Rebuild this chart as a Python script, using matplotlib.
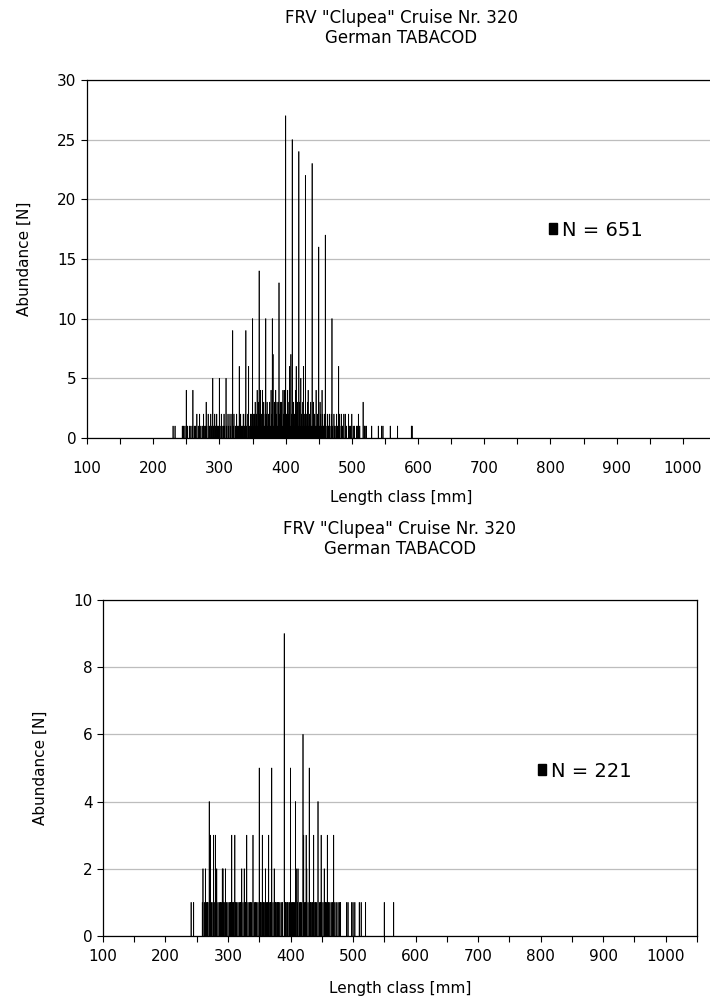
import matplotlib
matplotlib.use("Agg")
import matplotlib.pyplot as plt
import numpy as np
from matplotlib.patches import Patch
from matplotlib.ticker import MultipleLocator

plt.rcParams["font.family"] = ["DejaVu Sans"]

TITLE = 'FRV "Clupea" Cruise Nr. 320\nGerman TABACOD'

# first chart: counts per 1-mm length class, one row per 10 mm, starting at 230 mm
top_start = 230
top_counts = [
    1, 0, 0, 1, 0, 0, 0, 0, 0, 0,
    0, 0, 0, 0, 1, 0, 1, 0, 1, 0,
    4, 0, 1, 0, 0, 1, 0, 1, 0, 1,
    4, 0, 1, 0, 1, 0, 2, 0, 1, 0,
    2, 0, 1, 0, 1, 0, 2, 1, 0, 1,
    3, 1, 0, 2, 0, 1, 0, 2, 1, 0,
    5, 1, 0, 2, 1, 0, 2, 1, 0, 1,
    5, 1, 0, 2, 1, 0, 1, 2, 1, 0,
    5, 1, 0, 2, 1, 0, 2, 1, 0, 2,
    9, 1, 2, 0, 1, 0, 2, 1, 0, 1,
    6, 0, 2, 1, 0, 1, 2, 0, 1, 2,
    9, 1, 0, 2, 6, 1, 0, 2, 1, 2,
    10, 2, 1, 2, 3, 1, 2, 4, 1, 3,
    14, 2, 4, 1, 2, 4, 1, 3, 1, 2,
    10, 2, 3, 1, 2, 1, 3, 1, 4, 2,
    10, 7, 1, 3, 1, 4, 2, 3, 1, 3,
    13, 2, 3, 1, 3, 1, 4, 2, 4, 2,
    27, 2, 1, 4, 2, 3, 6, 1, 7, 2,
    25, 1, 3, 2, 1, 4, 6, 2, 3, 1,
    24, 3, 1, 5, 2, 1, 3, 6, 1, 2,
    22, 2, 1, 3, 4, 1, 2, 1, 3, 1,
    23, 1, 3, 1, 2, 1, 4, 1, 2, 1,
    16, 1, 3, 2, 1, 4, 2, 1, 1, 2,
    17, 1, 0, 2, 1, 1, 2, 1, 0, 2,
    10, 1, 0, 2, 1, 0, 1, 2, 1, 0,
    6, 2, 1, 0, 2, 1, 1, 0, 2, 0,
    2, 0, 1, 0, 0, 2, 1, 0, 1, 0,
    2, 0, 1, 0, 1, 0, 0, 1, 0, 1,
    2, 0, 1, 0, 0, 0, 0, 3, 0, 1,
    1, 0, 1, 0, 0, 0, 0, 0, 0, 0,
    1, 0, 0, 0, 0, 0, 0, 0, 0, 0,
    1, 0, 0, 0, 0, 1, 0, 1, 0, 0,
    0, 0, 0, 0, 0, 0, 0, 0, 1, 0,
    0, 0, 0, 0, 0, 0, 0, 0, 0, 1,
    0, 0, 0, 0, 0, 0, 0, 0, 0, 0,
    0, 0, 0, 0, 0, 0, 0, 0, 0, 0,
    1, 1, 0, 0, 0, 0, 0, 0, 0, 0,
]
top_label = "N = 651"

# second chart, starting at 240 mm
bottom_start = 240
bottom_counts = [
    0, 1, 0, 0, 0, 1, 0, 0, 0, 0,
    0, 0, 0, 0, 0, 0, 0, 0, 0, 1,
    2, 0, 1, 0, 2, 0, 1, 1, 1, 0,
    4, 0, 3, 0, 1, 0, 1, 3, 0, 1,
    3, 0, 2, 0, 1, 0, 1, 0, 1, 0,
    1, 2, 2, 1, 0, 1, 2, 0, 1, 0,
    1, 0, 1, 0, 1, 0, 3, 1, 0, 1,
    0, 3, 1, 0, 1, 0, 1, 0, 1, 0,
    1, 0, 2, 0, 1, 0, 2, 0, 1, 0,
    3, 0, 1, 0, 1, 0, 1, 0, 1, 0,
    3, 0, 1, 0, 1, 0, 1, 0, 1, 0,
    5, 0, 1, 1, 0, 3, 0, 1, 0, 1,
    2, 0, 1, 1, 0, 3, 0, 1, 1, 0,
    5, 0, 1, 0, 2, 0, 1, 1, 0, 1,
    1, 1, 0, 1, 0, 1, 0, 1, 0, 0,
    9, 0, 1, 1, 0, 1, 1, 0, 1, 0,
    5, 0, 1, 1, 0, 1, 1, 0, 4, 2,
    0, 1, 2, 0, 1, 0, 1, 0, 1, 0,
    6, 3, 1, 0, 1, 3, 2, 0, 1, 0,
    5, 0, 1, 1, 0, 1, 0, 3, 0, 1,
    1, 0, 1, 0, 4, 0, 1, 0, 1, 3,
    1, 0, 1, 0, 2, 0, 1, 0, 1, 3,
    0, 1, 0, 1, 0, 1, 0, 1, 0, 3,
    0, 1, 0, 1, 0, 0, 1, 0, 1, 0,
    1, 0, 0, 0, 0, 0, 0, 0, 0, 0,
    1, 0, 1, 0, 0, 0, 0, 0, 1, 0,
    1, 0, 0, 1, 0, 0, 0, 0, 0, 0,
    1, 0, 0, 1, 0, 0, 0, 0, 0, 0,
    1, 0, 0, 0, 0, 0, 0, 0, 0, 0,
    0, 0, 0, 0, 0, 0, 0, 0, 0, 0,
    0, 0, 0, 0, 0, 0, 0, 0, 0, 0,
    1, 0, 0, 0, 0, 0, 0, 0, 0, 0,
    0, 0, 0, 0, 0, 1, 0, 0, 0, 0,
]
bottom_label = "N = 221"


def _panel(fig, rect, start, counts, ymax, ystep, label, leg_xy,
           title_pad, tick_pad, xlabel_pad):
    ax = fig.add_axes(rect)
    lengths = np.arange(start, start + len(counts))
    counts = np.asarray(counts)
    keep = counts > 0
    ax.bar(lengths[keep], counts[keep], width=0.6, color="black",
           edgecolor="black", linewidth=0.45, snap=False, zorder=3)

    ax.set_xlim(100, 1050)
    ax.set_ylim(0, ymax)
    ax.xaxis.set_major_locator(MultipleLocator(100))
    ax.xaxis.set_minor_locator(MultipleLocator(50))
    ax.yaxis.set_major_locator(MultipleLocator(ystep))
    ax.set_xticks(np.arange(100, 1001, 100))
    ax.tick_params(axis="both", which="both", direction="out", length=4,
                   width=0.8, labelsize=11, top=False, right=False)
    ax.tick_params(axis="x", which="major", pad=tick_pad)
    ax.grid(axis="y", color="#bdbdbd", linewidth=0.9, zorder=0)
    for sp in ax.spines.values():
        sp.set_linewidth(0.9)

    ax.set_xlabel("Length class [mm]", fontsize=11, labelpad=xlabel_pad)
    ax.set_ylabel("Abundance [N]", fontsize=11, labelpad=18)
    ax.set_title(TITLE, fontsize=12, pad=title_pad, linespacing=1.15)

    ax.legend(handles=[Patch(facecolor="black", edgecolor="black")],
              labels=[label], loc="center left", bbox_to_anchor=leg_xy,
              frameon=False, fontsize=14, handlelength=0.45,
              handleheight=0.45, handletextpad=0.25, borderpad=0,
              borderaxespad=0)
    return ax


def main() -> int:
    fig = plt.figure(figsize=(7.1, 10.0), dpi=100)
    _panel(fig, [0.1225, 0.562, 0.886, 0.358], top_start, top_counts,
           30, 5, top_label, (0.734, 0.581), 26.5, 12.5, 10)
    _panel(fig, [0.145, 0.064, 0.8365, 0.336], bottom_start, bottom_counts,
           10, 2, bottom_label, (0.732, 0.491), 33, 5.5, 12)
    fig.savefig("out.png", dpi=100)
    plt.close(fig)
    return 0


if __name__ == "__main__":
    raise SystemExit(main())
